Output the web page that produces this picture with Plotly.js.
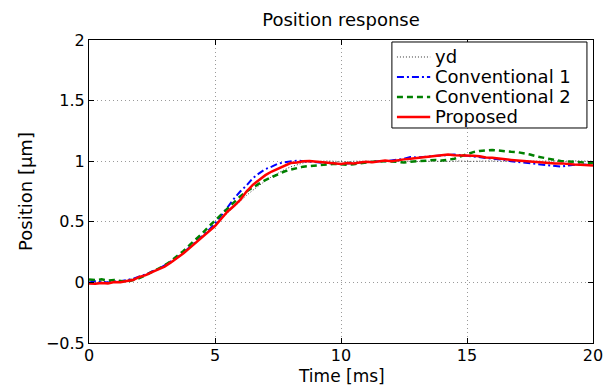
<!DOCTYPE html>
<html>
<head>
<meta charset="utf-8">
<script src="https://cdn.plot.ly/plotly-3.0.1.min.js"></script>
<style>html,body{margin:0;padding:0;background:#fff;}#chart{width:606px;height:385px;}</style>
</head>
<body>
<div id="chart"></div>
<script>
const timeMs = [0,0.25,0.5,0.75,1,1.25,1.5,1.75,2,2.25,2.5,2.75,3,3.25,3.5,3.75,4,4.25,4.5,4.75,5,5.25,5.5,5.75,6,6.25,6.5,6.75,7,7.25,7.5,7.75,8,8.25,8.5,8.75,9,9.25,9.5,9.75,10,10.25,10.5,10.75,11,11.25,11.5,11.75,12,12.25,12.5,12.75,13,13.25,13.5,13.75,14,14.25,14.5,14.75,15,15.25,15.5,15.75,16,16.25,16.5,16.75,17,17.25,17.5,17.75,18,18.25,18.5,18.75,19,19.25,19.5,19.75,20];

const yd = [0,0,0,0.002,0.005,0.01,0.018,0.03,0.045,0.062,0.083,0.107,0.135,0.167,0.203,0.243,0.287,0.333,0.381,0.43,0.48,0.53,0.58,0.628,0.674,0.718,0.76,0.8,0.838,0.872,0.903,0.93,0.953,0.972,0.986,0.995,1.0,1.0,1.002,0.998,1.0,0.995,1.0,1.003,1.0,0.998,1.0,1.002,1.0,0.997,1.0,1.0,0.998,1.0,1.002,1.0,0.997,1.0,1.0,1.002,0.998,1.0,1.0,0.998,1.002,1.0,0.997,1.0,1.002,1.0,0.998,1.0,1.0,1.003,1.0,0.998,1.0,1.002,1.0,0.998,1.0];

const conventional1 = [0,0.01,0.005,0,0.008,0.01,0.02,0.03,0.05,0.065,0.09,0.11,0.14,0.17,0.205,0.245,0.29,0.335,0.385,0.43,0.485,0.55,0.62,0.69,0.75,0.8,0.86,0.9,0.935,0.955,0.98,0.99,1.0,1.005,1.0,0.995,0.99,0.99,0.985,0.98,0.975,0.98,0.985,0.99,0.99,0.995,1.0,1.0,1.005,1.01,1.02,1.035,1.03,1.035,1.04,1.045,1.05,1.052,1.055,1.05,1.045,1.04,1.035,1.025,1.02,1.015,1.01,1.0,0.995,0.99,0.985,0.98,0.975,0.97,0.96,0.955,0.965,0.97,0.975,0.97,0.968];

const conventional2 = [0.025,0.02,0.025,0.015,0.02,0.01,0.005,0.02,0.035,0.06,0.085,0.11,0.14,0.175,0.215,0.26,0.31,0.355,0.405,0.46,0.51,0.565,0.615,0.665,0.71,0.75,0.785,0.815,0.845,0.87,0.89,0.915,0.93,0.945,0.955,0.96,0.965,0.97,0.975,0.978,0.975,0.97,0.975,0.985,0.99,0.995,1.0,1.0,0.998,0.995,0.99,0.995,1.0,1.005,1.01,1.01,1.005,1.01,1.02,1.04,1.06,1.075,1.085,1.09,1.092,1.088,1.08,1.078,1.075,1.068,1.055,1.04,1.03,1.02,1.01,1.0,0.998,0.995,0.992,0.988,0.985];

const proposed = [-0.01,-0.012,-0.005,-0.008,0.004,0.002,0.012,0.02,0.045,0.06,0.085,0.105,0.13,0.165,0.2,0.24,0.285,0.33,0.375,0.42,0.465,0.525,0.585,0.63,0.68,0.75,0.805,0.845,0.885,0.915,0.94,0.965,0.985,0.99,1.0,1.002,0.998,0.995,0.99,0.985,0.978,0.985,0.982,0.99,0.995,0.992,1.0,1.005,1.0,1.01,1.015,1.02,1.025,1.03,1.04,1.045,1.05,1.055,1.05,1.048,1.052,1.045,1.04,1.03,1.028,1.02,1.015,1.01,1.005,1.0,0.995,0.99,0.99,0.985,0.98,0.982,0.975,0.972,0.97,0.968,0.965];

const seriesNames = ['yd','Conventional 1','Conventional 2','Proposed'];
const xTicks = [0,5,10,15,20];
const yTicks = [-0.5,0,0.5,1,1.5,2];
const xTitle = 'Time [ms]';
const yTitle = 'Position [\u00b5m]';

const FONT = 'DejaVu Sans, Liberation Sans, Arial, sans-serif';
const styles = [
  {color:'#333333', width:1, dash:'1px,2px'},
  {color:'#0000ff', width:2, dash:'7px,3px,2px,3px'},
  {color:'#008000', width:2.5, dash:'6px,4px'},
  {color:'#ff0000', width:2.5, dash:'solid'}
];
const values = [yd, conventional1, conventional2, proposed];

const traces = values.map((v,i)=>({
  x: timeMs, y: v, type:'scatter', mode:'lines', name: seriesNames[i],
  line: {color: styles[i].color, width: styles[i].width, dash: styles[i].dash},
  showlegend:false, hoverinfo:'skip'
}));

// manual legend (MATLAB-style compact box)
const L = {x0:0.601, x1:0.988, y0:0.7096, y1:0.9934, sx0:0.611, sx1:0.677, tx:0.6825};
const rowY = [0.9439, 0.8779, 0.8119, 0.7459];
const shapes = [{type:'rect', xref:'paper', yref:'paper', x0:L.x0, x1:L.x1, y0:L.y0, y1:L.y1,
  line:{color:'#000', width:1}, fillcolor:'#fff', layer:'above'}];
const annotations = [];
seriesNames.forEach((n,i)=>{
  shapes.push({type:'line', xref:'paper', yref:'paper', x0:L.sx0, x1:L.sx1, y0:rowY[i], y1:rowY[i],
    line:{color:styles[i].color, width:styles[i].width, dash:styles[i].dash}, layer:'above'});
  annotations.push({xref:'paper', yref:'paper', x:L.tx, y:rowY[i], xanchor:'left', yanchor:'middle',
    text:n, showarrow:false, font:{family:FONT, size:18, color:'#000'}});
});
// x-axis title placed below the tick labels
annotations.push({xref:'paper', yref:'paper', x:0.5, y:-0.108, xanchor:'center', yanchor:'middle',
  text:xTitle, showarrow:false, borderpad:0, font:{family:FONT, size:17, color:'#000'}});

const axisCommon = {
  showline:true, linecolor:'#000', linewidth:1, mirror:'ticks',
  ticks:'inside', ticklen:5, tickcolor:'#000',
  showgrid:true, gridcolor:'#9a9a9a', griddash:'1px,3px', gridwidth:1,
  zeroline:false, tickfont:{family:FONT, size:16, color:'#000'}
};

const layout = {
  width:606, height:385,
  margin:{l:89, r:13, t:40, b:42, pad:0},
  paper_bgcolor:'#fff', plot_bgcolor:'#fff',
  font:{family:FONT, color:'#000'},
  title:{text:'Position response', font:{family:FONT, size:18, color:'#000'},
    xref:'paper', x:0.5, xanchor:'center', yref:'container', y:0.95, yanchor:'middle'},
  xaxis: Object.assign({}, axisCommon, {range:[0,20], tickmode:'array', tickvals:xTicks,
    ticktext: xTicks.map(String), ticklabelstandoff:-2}),
  yaxis: Object.assign({}, axisCommon, {range:[-0.5,2], tickmode:'array', tickvals:yTicks,
    ticktext: yTicks.map(v=> v<0 ? '\u2212'+Math.abs(v) : String(v)),
    title:{text:yTitle, font:{family:FONT, size:18, color:'#000'}, standoff:8}}),
  shapes: shapes,
  annotations: annotations,
  showlegend:false
};

Plotly.newPlot('chart', traces, layout, {staticPlot:true, displayModeBar:false});
</script>
</body>
</html>
